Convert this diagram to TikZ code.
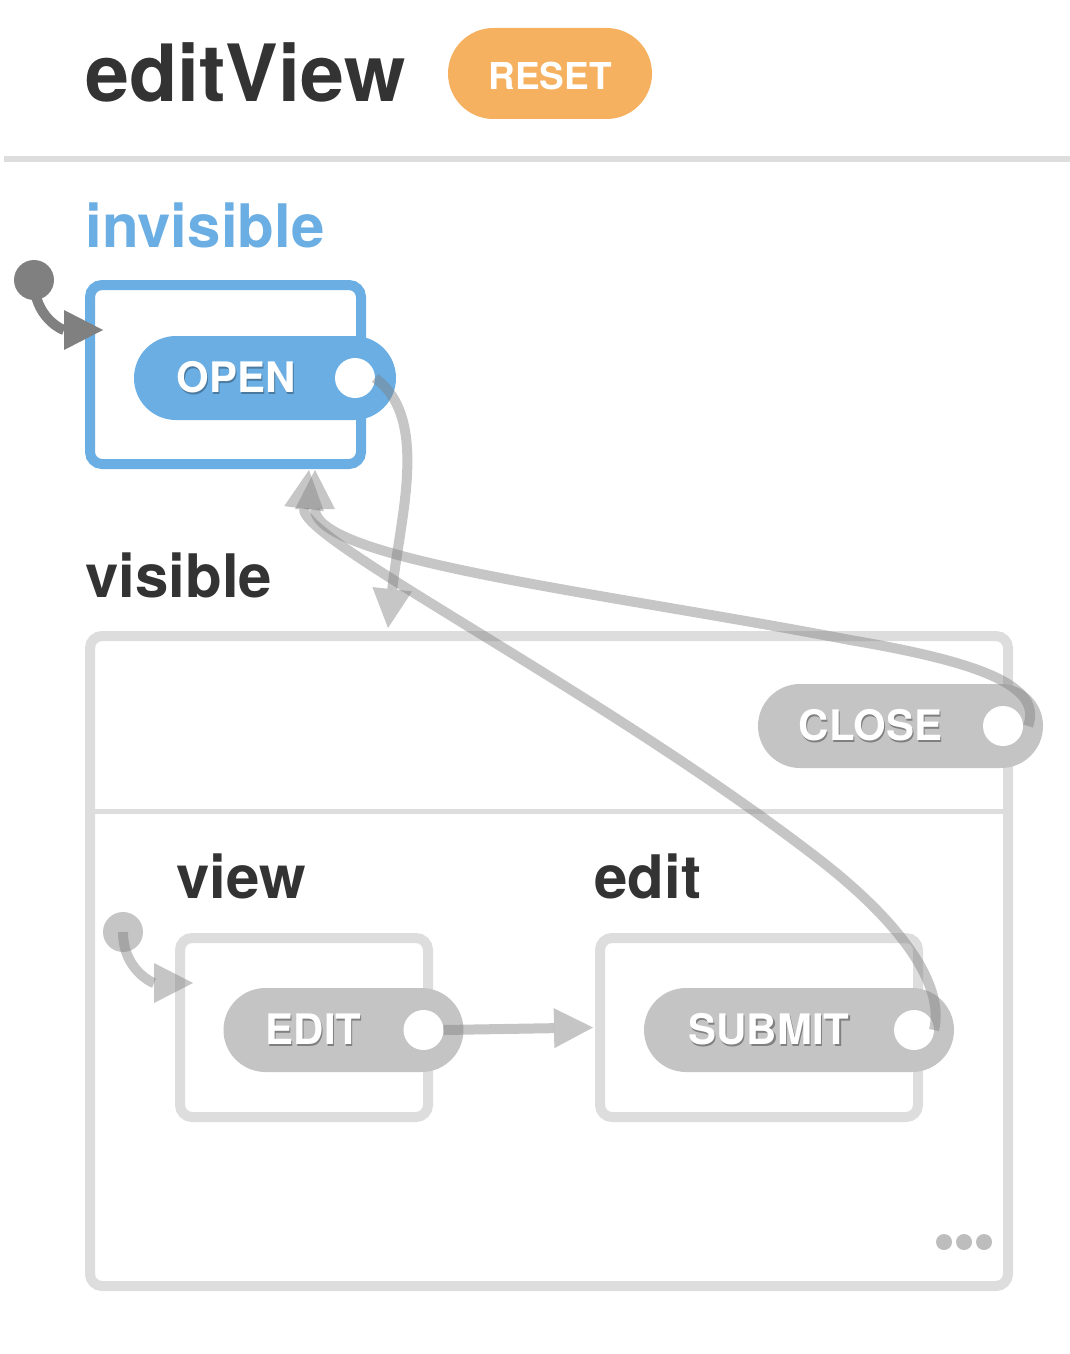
\documentclass[tikz,border=0pt]{standalone}
\usepackage{fontspec}
\setmainfont{TeX Gyre Heros}
\usetikzlibrary{arrows.meta,calc,positioning}

\definecolor{stateblue}{RGB}{106,174,227}
\definecolor{resetorange}{RGB}{245,177,95}
\definecolor{textdark}{RGB}{51,51,51}
\definecolor{boxgray}{RGB}{221,221,221}
\definecolor{pillgray}{RGB}{196,196,196}
\definecolor{dotgray}{RGB}{189,189,189}

\newcommand\shadowtext[2]{\rlap{\raisebox{-1.2pt}{\hspace{0.6pt}\textcolor{#1}{#2}}}#2}

\tikzset{
  statebox/.style={draw=boxgray, line width=5pt, rounded corners=6pt, fill=white, inner sep=0pt, outer sep=0pt},
  pill/.style={fill=pillgray, rounded corners=21pt, minimum height=42pt, inner sep=0pt, outer sep=0pt},
  port/.style={circle, fill=white, minimum size=20pt, inner sep=0pt, outer sep=0pt},
  pilltext/.style={text=white, inner sep=0pt, font=\fontsize{21}{25}\selectfont\bfseries},
  heading/.style={anchor=base west, inner sep=0pt, text=textdark, font=\fontsize{30}{36}\selectfont\bfseries},
  initdot/.style={circle, fill=black!50, minimum size=20pt, inner sep=0pt, outer sep=0pt},
  trans/.style={draw=black!50, line width=5pt, -{Triangle[length=19.5pt,width=20pt,line width=0pt]}},
  faded/.style={opacity=0.45}
}

\begin{document}
\begin{tikzpicture}[x=0.5pt,y=-0.5pt]
    \useasboundingbox (0,0) rectangle (1070,1354);

    % header
    \node[heading, font=\fontsize{39.5}{46}\selectfont\bfseries] (title) at (85,102) {editView};
    \node[pill, fill=resetorange, rounded corners=22.75pt, minimum width=102pt, minimum height=45.5pt] (reset) at (550,73.5) {};
    \node[text=white, inner sep=0pt, font=\fontsize{18.5}{22}\selectfont\bfseries] (resettext) at (550,76) {RESET};
    \draw[boxgray, line width=3pt] (4,159) -- (1070,159);

    % invisible
    \node[heading, text=stateblue] (invlabel) at (85,247) {invisible};
    \node[statebox, draw=stateblue, minimum width=135.5pt, minimum height=89.5pt] (invbox) at (225.5,374.5) {};
    \node[pill, fill=stateblue, minimum width=131pt] (openpill) at (265,378) {};
    \node[pilltext] (opentext) at ($(openpill.center)+(-29,0)$) {\shadowtext{stateblue!70!black}{OPEN}};
    \node[port] (openport) at ($(openpill.east)+(-41,0)$) {};
    \node[initdot] (initA) at (34,280) {};

    % visible
    \node[heading] (vislabel) at (85,597) {visible};
    \node[statebox, minimum width=459pt, minimum height=325pt] (visbox) at (549,961) {};
    \draw[boxgray, line width=2.5pt] ($(visbox.north west)+(0,175)$) -- ($(visbox.north east)+(0,175)$);
    \node[pill, minimum width=142.5pt] (closepill) at (900.5,726) {};
    \node[pilltext] (closetext) at ($(closepill.center)+(-30,0)$) {\shadowtext{pillgray!65!black}{CLOSE}};
    \node[port] (closeport) at ($(closepill.east)+(-40,0)$) {};

    \node[heading] (viewlabel) at (176,898) {view};
    \node[heading] (editlabel) at (594,898) {edit};
    \node[statebox, minimum width=124pt, minimum height=89.5pt] (viewbox) at (304,1027.5) {};
    \node[statebox, minimum width=159pt, minimum height=89.5pt] (editbox) at (759,1027.5) {};
    \node[pill, minimum width=120pt] (editpill) at (343.5,1030) {};
    \node[pilltext] (edittext) at ($(editpill.center)+(-30,0)$) {\shadowtext{pillgray!65!black}{EDIT}};
    \node[port] (editport) at ($(editpill.east)+(-40,0)$) {};
    \node[pill, minimum width=155pt] (submitpill) at (799,1030) {};
    \node[pilltext] (submittext) at ($(submitpill.center)+(-30,0)$) {\shadowtext{pillgray!65!black}{SUBMIT}};
    \node[port] (submitport) at ($(submitpill.east)+(-40,0)$) {};
    \node[initdot, faded] (initB) at (123,932) {};
    \fill[dotgray] ($(visbox.south east)+(-64,-44)$) circle (4pt) ++(20,0) circle (4pt) ++(20,0) circle (4pt);

    % transitions
    \draw[trans] (initA.center) .. controls +(0,38) and +(-40,0) .. ($(invbox.north west)+(13,45)$);
    \draw[trans, faded] (initB.center) .. controls +(0,38) and +(-40,0) .. ($(viewbox.north west)+(13,45)$);
    \draw[trans, faded] (openport.east) .. controls +(55,40) and +(12,-110) .. ($(visbox.north west)+(298,-8)$);
    \draw[trans, faded] (editport.east) -- ($(editbox.west)+(-7,0)$);
    \draw[trans, faded] ($(closeport.east)+(5,0)$) .. controls +(15,-40) and +(130,22) .. ($(closeport)+(-153,-86)$)
        .. controls +(-250,-48) and +(0,90) .. ($(invbox.south west)+(225,6)$);
    \draw[trans, faded] (submitport.east) .. controls +(10,-40) and +(90,70) .. ($(submitport)+(-94,-170)$)
        .. controls +(-220,-170) and +(-9,70) .. ($(invbox.south west)+(219,6)$);
\end{tikzpicture}
\end{document}
